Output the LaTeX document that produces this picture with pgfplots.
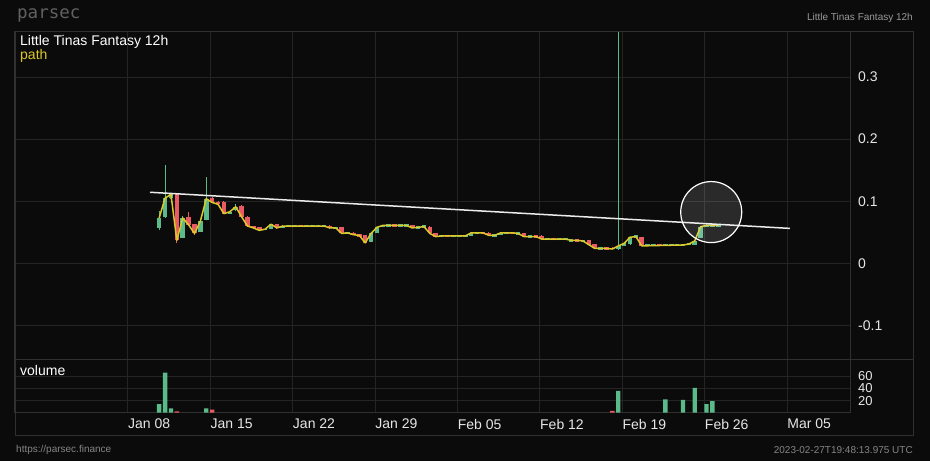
\documentclass[border=0pt]{standalone}
\usepackage{pgfplots}
\usepackage{pgfplotstable}
\pgfplotsset{compat=1.18}
\usepackage{fontspec}
\setmainfont{Liberation Sans}
\newfontfamily\monofont{DejaVu Sans Mono}

\definecolor{bg}{HTML}{0B0B0B}
\definecolor{cgrid}{HTML}{242424}
\definecolor{cframe}{HTML}{303030}
\definecolor{cgreen}{HTML}{5ABA8A}
\definecolor{cred}{HTML}{EA5A62}
\definecolor{cpath}{HTML}{DCC828}
\definecolor{ctext}{HTML}{E6E6E6}

% 12h candles: k = candle index, x = 2.65 + 0.5k days after Jan 08
\pgfplotstableread{
k o h l c
0 0.057 0.085 0.053 0.073
1 0.075 0.159 0.073 0.105
2 0.105 0.113 0.104 0.111
4 0.041 0.076 0.040 0.073
7 0.051 0.069 0.050 0.068
8 0.070 0.139 0.069 0.104
12 0.080 0.083 0.079 0.083
13 0.086 0.095 0.085 0.091
18 0.053 0.056 0.053 0.055
19 0.055 0.064 0.055 0.063
21 0.057 0.061 0.057 0.060
22 0.058 0.062 0.058 0.062
23 0.058 0.062 0.058 0.062
25 0.058 0.062 0.058 0.062
26 0.058 0.062 0.058 0.062
27 0.058 0.062 0.058 0.062
28 0.058 0.062 0.058 0.062
30 0.055 0.059 0.055 0.059
32 0.047 0.051 0.047 0.051
36 0.035 0.048 0.034 0.048
37 0.049 0.058 0.049 0.058
38 0.058 0.062 0.058 0.061
39 0.059 0.063 0.059 0.063
41 0.059 0.063 0.059 0.063
42 0.059 0.063 0.059 0.063
44 0.056 0.060 0.056 0.060
45 0.057 0.061 0.057 0.061
48 0.042 0.046 0.042 0.046
50 0.042 0.046 0.042 0.046
51 0.042 0.046 0.042 0.046
52 0.042 0.046 0.042 0.046
53 0.044 0.049 0.044 0.049
54 0.047 0.051 0.047 0.051
57 0.043 0.047 0.043 0.047
58 0.045 0.049 0.045 0.049
59 0.047 0.051 0.047 0.051
61 0.046 0.050 0.046 0.050
63 0.041 0.045 0.041 0.045
66 0.037 0.041 0.037 0.041
68 0.037 0.041 0.037 0.041
69 0.037 0.041 0.037 0.041
70 0.035 0.039 0.035 0.039
72 0.034 0.038 0.034 0.038
75 0.022 0.026 0.022 0.026
78 0.023 0.600 0.022 0.028
79 0.028 0.033 0.028 0.032
80 0.031 0.043 0.030 0.042
81 0.041 0.045 0.041 0.045
83 0.0275 0.0315 0.0275 0.0315
84 0.0275 0.0315 0.0275 0.0315
86 0.0275 0.0315 0.0275 0.0315
87 0.0275 0.0315 0.0275 0.0315
88 0.0275 0.0315 0.0275 0.0315
89 0.0275 0.0315 0.0275 0.0315
90 0.029 0.033 0.029 0.033
91 0.030 0.036 0.030 0.036
92 0.040 0.060 0.040 0.059
93 0.059 0.063 0.059 0.062
94 0.059 0.063 0.059 0.063
95 0.059 0.063 0.059 0.063
}\greencandles

\pgfplotstableread{
k o h l c
3 0.111 0.112 0.032 0.037
5 0.075 0.082 0.060 0.062
6 0.063 0.064 0.046 0.048
9 0.105 0.107 0.097 0.098
10 0.099 0.100 0.094 0.095
11 0.099 0.100 0.079 0.080
14 0.093 0.094 0.074 0.075
15 0.075 0.076 0.059 0.060
16 0.060 0.060 0.056 0.057
17 0.058 0.058 0.052 0.053
20 0.063 0.063 0.056 0.057
24 0.062 0.062 0.058 0.058
29 0.060 0.061 0.056 0.057
31 0.058 0.059 0.047 0.048
33 0.049 0.050 0.045 0.046
34 0.047 0.047 0.043 0.043
35 0.046 0.046 0.032 0.033
40 0.063 0.063 0.059 0.059
43 0.061 0.062 0.057 0.057
46 0.059 0.060 0.047 0.048
47 0.049 0.049 0.042 0.043
49 0.046 0.046 0.042 0.042
55 0.051 0.051 0.047 0.047
56 0.049 0.050 0.045 0.045
60 0.051 0.051 0.047 0.047
62 0.048 0.049 0.043 0.043
64 0.045 0.045 0.041 0.041
65 0.044 0.045 0.039 0.039
67 0.041 0.041 0.037 0.037
71 0.039 0.039 0.035 0.035
73 0.037 0.038 0.030 0.030
74 0.031 0.031 0.024 0.024
76 0.026 0.026 0.022 0.022
77 0.025 0.026 0.023 0.023
82 0.042 0.043 0.028 0.028
85 0.0315 0.0315 0.0275 0.0275
}\redcandles

\pgfplotstableread{
k p
0 0.073
1 0.105
2 0.111
3 0.037
4 0.073
5 0.062
6 0.048
7 0.068
8 0.104
9 0.098
10 0.095
11 0.080
12 0.083
13 0.091
14 0.075
15 0.060
16 0.057
17 0.053
18 0.055
19 0.063
20 0.057
21 0.060
28 0.060
29 0.057
30 0.057
31 0.048
32 0.049
33 0.046
34 0.045
35 0.033
36 0.048
37 0.058
38 0.061
42 0.061
43 0.057
44 0.058
45 0.059
46 0.048
47 0.043
48 0.044
52 0.044
53 0.049
55 0.049
56 0.045
57 0.045
58 0.049
60 0.049
61 0.048
62 0.043
64 0.043
65 0.039
69 0.039
70 0.037
71 0.037
72 0.036
73 0.030
74 0.024
76 0.024
77 0.023
78 0.028
79 0.032
80 0.042
81 0.043
82 0.028
89 0.0295
90 0.031
91 0.036
92 0.059
93 0.061
95 0.061
}\pathdata

\pgfplotstableread{
k v
0 14
1 66
2 7
8 7
78 36
86 22
89 21
91 41
93 14
94 19
}\volgreen

\pgfplotstableread{
k v
3 2
9 5
77 3
}\volred

\pgfplotsset{
  chartbase/.style={
    scale only axis, width=835pt,
    xmin=-9.60, xmax=61.34,
    xtick={0,7,...,56},
    grid=major,
    major grid style={cgrid, line width=1pt},
    major tick length=0pt,
    axis line style={cframe, line width=1pt},
    yticklabel pos=right,
    yticklabel style={anchor=west, inner sep=0pt, xshift=8pt, text=ctext},
  },
}

\begin{document}
\begin{tikzpicture}[x=1pt, y=1pt]
\fill[bg] (0,0) rectangle (930,461);
\useasboundingbox (0,0) rectangle (930,461);

% price panel
\begin{axis}[chartbase,
  at={(15pt,101pt)}, anchor=south west,
  height=328pt,
  ymin=-0.1558, ymax=0.3726,
  ytick={-0.1,0,0.1,0.2,0.3},
  yticklabels={-0.1,0,0.1,0.2,0.3},
  yticklabel style={font=\fontsize{14}{16}\selectfont},
  xticklabels={},
]
\addplot[only marks, mark=*, mark size=30.5pt,
  mark options={draw=white, line width=1.2pt, fill=white, fill opacity=0.13}]
  coordinates {(49.55,0.0825)};
% wicks (low to high)
\addplot[cgreen, line width=1pt, -, quiver={u=0, v=\thisrow{h}-\thisrow{l}}]
  table[x expr=2.65+0.5*\thisrow{k}, y=l] {\greencandles};
\addplot[cred, line width=1pt, -, quiver={u=0, v=\thisrow{h}-\thisrow{l}}]
  table[x expr=2.65+0.5*\thisrow{k}, y=l] {\redcandles};
% bodies (open to close)
\addplot[cgreen, line width=4.6pt, -, quiver={u=0, v=\thisrow{c}-\thisrow{o}}]
  table[x expr=2.65+0.5*\thisrow{k}, y=o] {\greencandles};
\addplot[cred, line width=4.6pt, -, quiver={u=0, v=\thisrow{c}-\thisrow{o}}]
  table[x expr=2.65+0.5*\thisrow{k}, y=o] {\redcandles};
\addplot[cpath, line width=1.5pt, line join=round] table[x expr=2.65+0.5*\thisrow{k}, y=p] {\pathdata};
\addplot[white!92!black, line width=1.5pt] coordinates {(1.87,0.1144) (56.24,0.0562)};
\end{axis}

% volume panel
\begin{axis}[chartbase,
  at={(15pt,48.3pt)}, anchor=south west,
  height=52.7pt,
  ymin=0, ymax=86.7,
  ytick={20,40,60},
  yticklabels={20,40,60},
  yticklabel style={font=\fontsize{13}{15}\selectfont},
  xticklabels={Jan 08,Jan 15,Jan 22,Jan 29,Feb 05,Feb 12,Feb 19,Feb 26,Mar 05},
  xticklabel style={anchor=north west, inner sep=0pt, yshift=-6pt,
    text=ctext, font=\fontsize{14}{16}\selectfont},
]
\addplot[ybar, bar width=4.4pt, bar shift=0pt, fill=cgreen, draw=none]
  table[x expr=2.65+0.5*\thisrow{k}, y=v] {\volgreen};
\addplot[ybar, bar width=4.4pt, bar shift=0pt, fill=cred, draw=none]
  table[x expr=2.65+0.5*\thisrow{k}, y=v] {\volred};
\end{axis}

% frame
\draw[cframe, line width=1pt] (15,25) rectangle (913,429);
\draw[cframe, line width=1pt] (15,101) -- (913,101);

% texts
\node[anchor=west, inner sep=0pt, text=black!62] at (17,446)
  {\monofont\fontsize{17.5}{20}\selectfont parsec};
\node[anchor=east, inner sep=0pt, text=black!40] at (913,443.5)
  {\fontsize{10}{12}\selectfont Little Tinas Fantasy 12h};
\node[anchor=west, inner sep=0pt, text=white] at (20,419)
  {\fontsize{14}{16}\selectfont Little Tinas Fantasy 12h};
\node[anchor=west, inner sep=0pt, text=cpath] at (20,405)
  {\fontsize{14}{16}\selectfont path};
\node[anchor=west, inner sep=0pt, text=white] at (20,90.5)
  {\fontsize{14}{16}\selectfont volume};
\node[anchor=west, inner sep=0pt, text=black!48] at (16,11)
  {\fontsize{10}{12}\selectfont https://parsec.finance};
\node[anchor=east, inner sep=0pt, text=black!48] at (913,11)
  {\fontsize{10}{12}\selectfont 2023-02-27T19:48:13.975 UTC};
\end{tikzpicture}
\end{document}
